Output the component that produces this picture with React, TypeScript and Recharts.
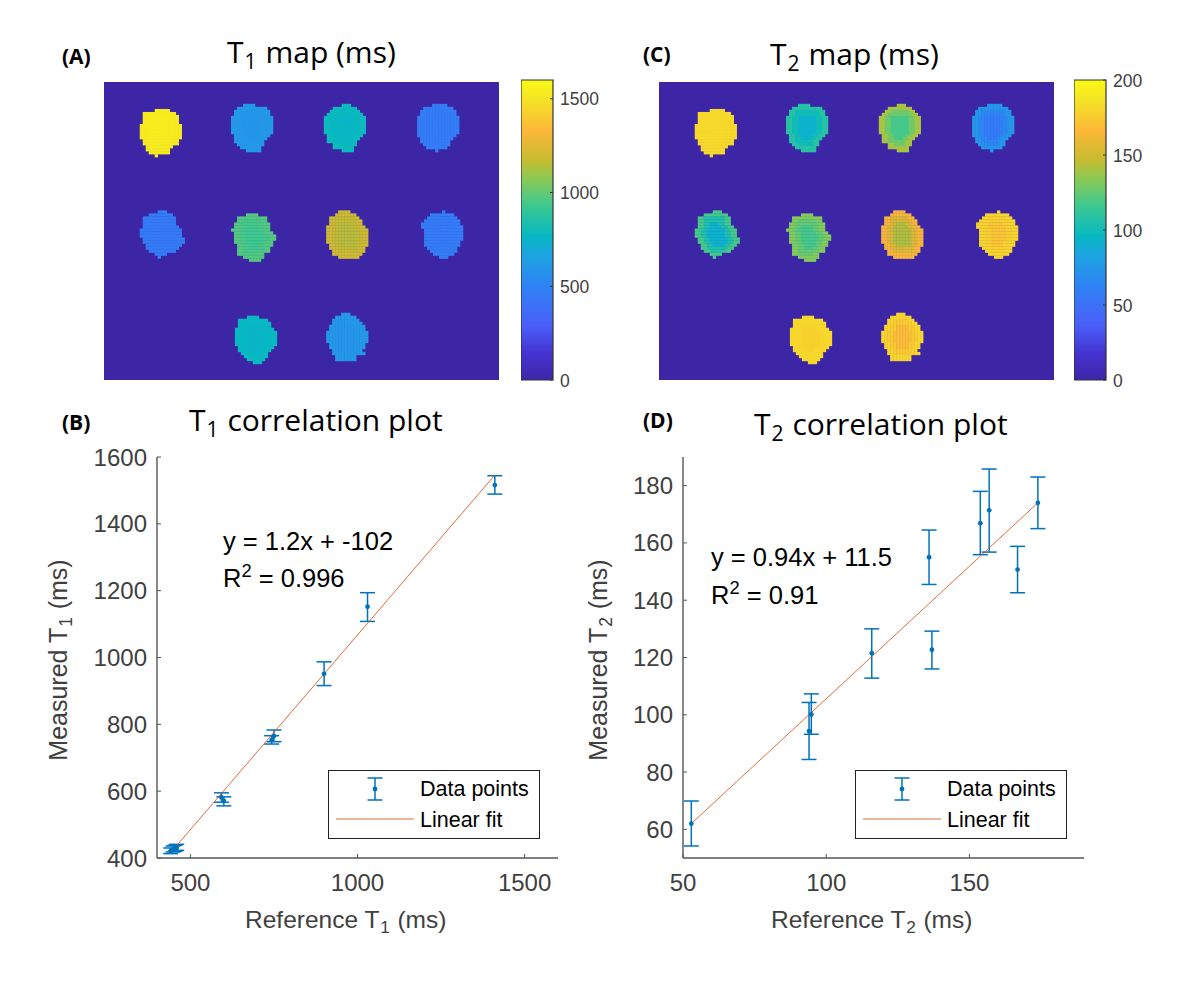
import React from 'react';
import { BarChart, Bar, ScatterChart, Scatter, ErrorBar, XAxis, YAxis } from 'recharts';

const BLUE = '#0072bd';
const ORANGE = '#d95319';
const AXIS = '#555555';
const LABEL = '#404040';
const SANS = '"Liberation Sans", Arial, sans-serif';
const TITLE = '"Open Sans", "Noto Sans", sans-serif';

// parula as it looks in the colorbars
const colorStops: [number, string][] = [
    [0, '#3e26a8'], [0.09, '#4433d0'], [0.18, '#4a5ef8'], [0.31, '#2f82f5'], [0.42, '#1ca5e0'],
    [0.48, '#06b8c2'], [0.58, '#3cc890'], [0.67, '#8aca55'], [0.73, '#c5bc30'], [0.83, '#fdb738'],
    [0.92, '#f5dd28'], [1, '#f9fb15'],
];

// phantom tubes, same mask in both maps: [first col, col after the last] per image row
const tubeCols = [12, 42.5, 73.5, 104.7, 12, 42.5, 74.3, 106, 43.8, 74.3];
const tubeRows = [9, 7.3, 7.3, 7.3, 42.7, 43.7, 42.7, 42.7, 77.7, 76.7];
const tubeSpans: [number, number][][] = [
    [[5, 10], [1, 12], [1, 13], [1, 13], [1, 13], [0, 14], [0, 14], [0, 14], [0, 14], [0, 14], [1, 13], [1, 13], [2, 11], [2, 10], [3, 10], [5, 6]],
    [[4, 8], [2, 12], [1, 13], [1, 13], [0, 14], [0, 14], [0, 14], [0, 14], [0, 14], [0, 14], [1, 13], [1, 12], [1, 11], [2, 11], [3, 10], [5, 10]],
    [[6, 9], [3, 11], [2, 12], [1, 13], [0, 14], [0, 14], [0, 14], [0, 14], [0, 14], [0, 14], [1, 13], [1, 12], [1, 11], [3, 11], [3, 10], [6, 10]],
    [[5, 10], [2, 12], [1, 13], [1, 13], [0, 14], [0, 14], [0, 14], [0, 14], [0, 14], [0, 14], [0, 13], [1, 12], [1, 11], [2, 11], [3, 10], [6, 7]],
    [[6, 9], [3, 11], [1, 12], [1, 12], [1, 12], [1, 13], [0, 14], [0, 14], [0, 14], [1, 15], [1, 15], [2, 14], [2, 13], [3, 12], [5, 9], [6, 7]],
    [[5, 9], [2, 12], [2, 12], [1, 13], [1, 13], [0, 13], [1, 14], [1, 15], [1, 15], [1, 14], [2, 14], [2, 13], [2, 13], [2, 11], [4, 11], [6, 10]],
    [[4, 8], [3, 10], [1, 11], [1, 12], [1, 12], [0, 13], [0, 14], [0, 14], [0, 14], [0, 14], [0, 14], [1, 14], [1, 13], [2, 13], [2, 12], [4, 11]],
    [[7, 8], [3, 11], [2, 12], [1, 13], [0, 13], [0, 14], [1, 14], [1, 14], [1, 14], [1, 14], [1, 13], [1, 13], [2, 12], [3, 12], [4, 11], [6, 9]],
    [[4, 8], [1, 11], [1, 12], [1, 12], [0, 13], [0, 14], [0, 14], [0, 14], [0, 14], [0, 14], [1, 13], [1, 12], [2, 11], [3, 11], [4, 10], [6, 9]],
    [[5, 8], [3, 10], [2, 11], [2, 12], [1, 13], [1, 13], [0, 14], [0, 14], [0, 14], [0, 14], [1, 13], [1, 13], [2, 12], [2, 13], [3, 10], [3, 10]],
];

// edge, middle ring and centre of each tube, read against the colorbars
const t1Edge = [1530, 610, 785, 465, 460, 970, 1200, 465, 775, 610];
const t1Ring = [1535, 600, 770, 460, 455, 950, 1170, 460, 765, 600];
const t1Centre = [1540, 590, 760, 455, 450, 930, 1150, 455, 755, 590];
const t2Edge = [182, 108, 140, 75, 118, 132, 165, 180, 181, 180];
const t2Ring = [182, 100, 128, 65, 105, 125, 155, 178, 180, 175];
const t2Centre = [182, 92, 118, 58, 92, 118, 142, 172, 178, 168];

const t1Ticks = [0, 500, 1000, 1500];
const t2Ticks = [0, 50, 100, 150, 200];

// T1 correlation
const t1RefX = [1411, 1030, 900, 750, 743, 593, 600, 441, 448, 454, 459];
const t1Measured = [1516, 1152, 951, 765, 753, 581, 571, 421, 426, 428, 430];
const t1Upper = [1544, 1194, 987, 783, 766, 595, 583, 430, 436, 438, 441];
const t1Lower = [1489, 1108, 916, 748, 741, 567, 556, 413, 418, 420, 423];
const t1FitX = [439, 1411];
const t1FitY = [414, 1546];

// T2 correlation
const t2RefX = [52.9, 94, 94.8, 115.9, 135.9, 136.9, 153.8, 156.9, 166.8, 173.9];
const t2Measured = [62, 94.3, 100.1, 121.5, 155, 122.7, 166.9, 171.4, 150.7, 174];
const t2Upper = [69.9, 104.3, 107.3, 130, 164.5, 129.2, 178, 185.8, 158.8, 183];
const t2Lower = [54.2, 84.4, 93.2, 112.8, 145.5, 116, 155.9, 156.8, 142.6, 165];
const t2FitX = [52.9, 173.9];
const t2FitY = [62, 174];

const hexToRgb = (hex: string) => [1, 3, 5].map((i) => parseInt(hex.slice(i, i + 2), 16));

const colorAt = (t: number) => {
    for (let i = 1; i < colorStops.length; i++) {
        const [p1, c1] = colorStops[i - 1];
        const [p2, c2] = colorStops[i];
        if (t <= p2) {
            const k = (t - p1) / (p2 - p1);
            const a = hexToRgb(c1);
            const b = hexToRgb(c2);
            return `rgb(${a.map((v, j) => Math.round(v + (b[j] - v) * k)).join(',')})`;
        }
    }
    return colorStops[colorStops.length - 1][1];
};

const Text = ({ x, y, size, font = SANS, color = '#000', bold, children }: any) => (
    <div
        style={{
            position: 'absolute', left: x, top: y, fontSize: size, fontFamily: font, color,
            fontWeight: bold ? 700 : 400, whiteSpace: 'nowrap', lineHeight: 1,
        }}
    >
        {children}
    </div>
);

const Sub = ({ children }: any) => (
    <span style={{ fontSize: '0.7em', verticalAlign: '-0.28em', margin: '0 0.05em', lineHeight: 0 }}>{children}</span>
);
const Sup = ({ children }: any) => (
    <span style={{ fontSize: '0.72em', verticalAlign: '0.55em', lineHeight: 0 }}>{children}</span>
);

const CellMark = ({ cx, cy, payload }: any) => (
    <rect x={cx - 1.65} y={cy - 1.65} width={3.3} height={3.3} fill={payload.color} />
);

const TubeMap = ({ left, edge, ring, centre, max }: any) => {
    const cells: any[] = [];
    tubeSpans.forEach((spans, t) => {
        spans.forEach(([from, to], r) => {
            for (let c = from; c < to; c++) {
                const depth = Math.min(r, spans.length - 1 - r, c - from, to - 1 - c);
                const value = depth >= 4 ? centre[t] : depth >= 2 ? ring[t] : edge[t];
                cells.push({
                    col: tubeCols[t] + c + 0.5,
                    row: tubeRows[t] + r + 0.5,
                    color: colorAt(value / max),
                });
            }
        });
    });
    return (
        <div style={{ position: 'absolute', left, top: 82, width: 395, height: 298, background: '#3d26a6' }}>
            <ScatterChart width={395} height={298} margin={{ top: 0, right: 0, bottom: 0, left: 0 }}>
                <XAxis type="number" dataKey="col" domain={[0, 132]} hide />
                <YAxis type="number" dataKey="row" domain={[0, 99]} reversed hide />
                <Scatter data={cells} shape={CellMark} isAnimationActive={false} />
            </ScatterChart>
        </div>
    );
};

const Colorbar = ({ left, id, max, ticks }: any) => {
    const BarTick = ({ x, y, payload }: any) => (
        <g>
            <line x1={x} y1={y} x2={x - 3} y2={y} stroke="#333" />
            <text x={x + 7} y={y + 6.5} fontSize={17.5} fontFamily={SANS} fill={LABEL}>{payload.value}</text>
        </g>
    );
    return (
        <div style={{ position: 'absolute', left, top: 70 }}>
            <BarChart
                width={90}
                height={320}
                data={[{ name: 'scale', top: max }]}
                barCategoryGap={0}
                margin={{ top: 10, right: 0, bottom: 10, left: 0 }}
            >
                <defs>
                    <linearGradient id={id} x1="0" y1="1" x2="0" y2="0">
                        {colorStops.map(([p, c]) => (
                            <stop key={p} offset={`${p * 100}%`} stopColor={c} />
                        ))}
                    </linearGradient>
                </defs>
                <XAxis dataKey="name" hide />
                <YAxis
                    orientation="right"
                    width={58}
                    type="number"
                    domain={[0, max]}
                    ticks={ticks}
                    interval={0}
                    axisLine={false}
                    tickLine={false}
                    tickSize={0}
                    tickMargin={0}
                    tick={BarTick}
                />
                <Bar dataKey="top" fill={`url(#${id})`} stroke="#333" strokeWidth={1.2} isAnimationActive={false} />
            </BarChart>
        </div>
    );
};

const BottomTick = ({ x, y, payload }: any) => (
    <g>
        <line x1={x} y1={y} x2={x} y2={y - 4} stroke={AXIS} />
        <text x={x} y={y + 33} textAnchor="middle" fontSize={24} fontFamily={SANS} fill={LABEL}>{payload.value}</text>
    </g>
);
const TopTick = ({ x, y }: any) => <line x1={x} y1={y} x2={x} y2={y + 4} stroke={AXIS} />;
const LeftTick = ({ x, y, payload }: any) => (
    <g>
        <line x1={x} y1={y} x2={x + 4} y2={y} stroke={AXIS} />
        <text x={x - 10} y={y + 8.5} textAnchor="end" fontSize={24} fontFamily={SANS} fill={LABEL}>{payload.value}</text>
    </g>
);
const RightTick = ({ x, y }: any) => <line x1={x} y1={y} x2={x - 4} y2={y} stroke={AXIS} />;

const Dot = ({ cx, cy }: any) => <circle cx={cx} cy={cy} r={2.4} fill={BLUE} />;
const NoDot = () => <g />;

const CorrelationPlot = ({ left, xs, ys, upper, lower, fitX, fitY, xDomain, yDomain, xTicks, yTicks }: any) => {
    const points = xs.map((x: number, i: number) => ({
        x,
        y: ys[i],
        err: [ys[i] - lower[i], upper[i] - ys[i]],
    }));
    const fit = fitX.map((x: number, i: number) => ({ x, y: fitY[i] }));
    const axisStyle = { stroke: AXIS, strokeWidth: 1.4 };
    return (
        <div style={{ position: 'absolute', left: left - 75, top: 442 }}>
            <ScatterChart width={75 + 401 + 15} height={15 + 401 + 50} margin={{ top: 15, right: 15, bottom: 0, left: 0 }}>
                <XAxis
                    xAxisId="b" type="number" dataKey="x" domain={xDomain} ticks={xTicks} interval={0} height={50}
                    axisLine={axisStyle} tickLine={false} tickSize={0} tickMargin={0} tick={BottomTick}
                />
                <XAxis
                    xAxisId="t" orientation="top" type="number" dataKey="x" domain={xDomain} ticks={xTicks} interval={0} height={0}
                    axisLine={axisStyle} tickLine={false} tickSize={0} tickMargin={0} tick={TopTick}
                />
                <YAxis
                    yAxisId="l" type="number" dataKey="y" domain={yDomain} ticks={yTicks} interval={0} width={75}
                    axisLine={axisStyle} tickLine={false} tickSize={0} tickMargin={0} tick={LeftTick}
                />
                <YAxis
                    yAxisId="r" orientation="right" type="number" dataKey="y" domain={yDomain} ticks={yTicks} interval={0} width={0}
                    axisLine={axisStyle} tickLine={false} tickSize={0} tickMargin={0} tick={RightTick}
                />
                {/* the box axes only draw when a series is bound to them */}
                <Scatter xAxisId="t" yAxisId="r" data={fit} shape={NoDot} isAnimationActive={false} />
                <Scatter
                    xAxisId="b" yAxisId="l" data={fit} shape={NoDot}
                    line={{ stroke: ORANGE, strokeWidth: 1, strokeOpacity: 0.85 }} isAnimationActive={false}
                />
                <Scatter xAxisId="b" yAxisId="l" data={points} shape={Dot} isAnimationActive={false}>
                    <ErrorBar dataKey="err" direction="y" width={7.5} stroke={BLUE} strokeWidth={1.5} isAnimationActive={false} />
                </Scatter>
            </ScatterChart>
        </div>
    );
};

const LegendBox = ({ left }: any) => (
    <div
        style={{
            position: 'absolute', left, top: 770, width: 210, height: 67, border: '1px solid #222', background: '#fff',
        }}
    >
        <svg width={210} height={67} style={{ position: 'absolute', left: 0, top: 0 }}>
            <line x1={46} y1={7} x2={46} y2={29} stroke={BLUE} strokeWidth={1.5} />
            <line x1={38.5} y1={7} x2={53.5} y2={7} stroke={BLUE} strokeWidth={1.5} />
            <line x1={38.5} y1={29} x2={53.5} y2={29} stroke={BLUE} strokeWidth={1.5} />
            <circle cx={46} cy={18} r={2.4} fill={BLUE} />
            <line x1={7} y1={48} x2={85} y2={48} stroke={ORANGE} strokeOpacity={0.85} />
        </svg>
        <Text x={91} y={8} size={21.5}>Data points</Text>
        <Text x={91} y={39} size={21.5}>Linear fit</Text>
    </div>
);

export default function App() {
    return (
        <div style={{ position: 'absolute', left: 0, top: 0, width: 1198, height: 983, background: '#fff', overflow: 'hidden' }}>
            <Text x={62} y={46} size={21} font={TITLE} bold>(A)</Text>
            <Text x={643} y={44} size={21} font={TITLE} bold>(C)</Text>
            <Text x={62} y={412} size={21} font={TITLE} bold>(B)</Text>
            <Text x={643} y={410} size={21} font={TITLE} bold>(D)</Text>

            <Text x={227} y={37} size={30} font={TITLE}>T<Sub>1</Sub> map (ms)</Text>
            <Text x={770} y={39} size={30} font={TITLE}>T<Sub>2</Sub> map (ms)</Text>
            <Text x={189} y={405} size={30} font={TITLE}>T<Sub>1</Sub> correlation plot</Text>
            <Text x={754} y={409} size={30} font={TITLE}>T<Sub>2</Sub> correlation plot</Text>

            <TubeMap left={104} edge={t1Edge} ring={t1Ring} centre={t1Centre} max={1600} />
            <Colorbar left={521} id="parulaT1" max={1600} ticks={t1Ticks} />
            <TubeMap left={659} edge={t2Edge} ring={t2Ring} centre={t2Centre} max={200} />
            <Colorbar left={1074} id="parulaT2" max={200} ticks={t2Ticks} />

            <CorrelationPlot
                left={157} xs={t1RefX} ys={t1Measured} upper={t1Upper} lower={t1Lower} fitX={t1FitX} fitY={t1FitY}
                xDomain={[400, 1600]} yDomain={[400, 1600]} xTicks={[500, 1000, 1500]}
                yTicks={[400, 600, 800, 1000, 1200, 1400, 1600]}
            />
            <CorrelationPlot
                left={683} xs={t2RefX} ys={t2Measured} upper={t2Upper} lower={t2Lower} fitX={t2FitX} fitY={t2FitY}
                xDomain={[50, 190]} yDomain={[50, 190]} xTicks={[50, 100, 150]}
                yTicks={[60, 80, 100, 120, 140, 160, 180]}
            />

            <Text x={223} y={529} size={25.5}>y = 1.2x + -102</Text>
            <Text x={223} y={566} size={25.5}>R<Sup>2</Sup> = 0.996</Text>
            <Text x={711} y={545} size={25.5}>y = 0.94x + 11.5</Text>
            <Text x={711} y={583} size={25.5}>R<Sup>2</Sup> = 0.91</Text>

            <LegendBox left={328} />
            <LegendBox left={855} />

            <Text x={245} y={908} size={24.5} color={LABEL}>Reference T<Sub>1</Sub> (ms)</Text>
            <Text x={771} y={908} size={24.5} color={LABEL}>Reference T<Sub>2</Sub> (ms)</Text>
            <div style={{ position: 'absolute', left: 58, top: 660, transform: 'translate(-50%, -50%) rotate(-90deg)' }}>
                <div style={{ fontSize: 25, fontFamily: SANS, color: LABEL, whiteSpace: 'nowrap', lineHeight: 1 }}>Measured T<Sub>1</Sub> (ms)</div>
            </div>
            <div style={{ position: 'absolute', left: 598, top: 660, transform: 'translate(-50%, -50%) rotate(-90deg)' }}>
                <div style={{ fontSize: 25, fontFamily: SANS, color: LABEL, whiteSpace: 'nowrap', lineHeight: 1 }}>Measured T<Sub>2</Sub> (ms)</div>
            </div>
        </div>
    );
}
